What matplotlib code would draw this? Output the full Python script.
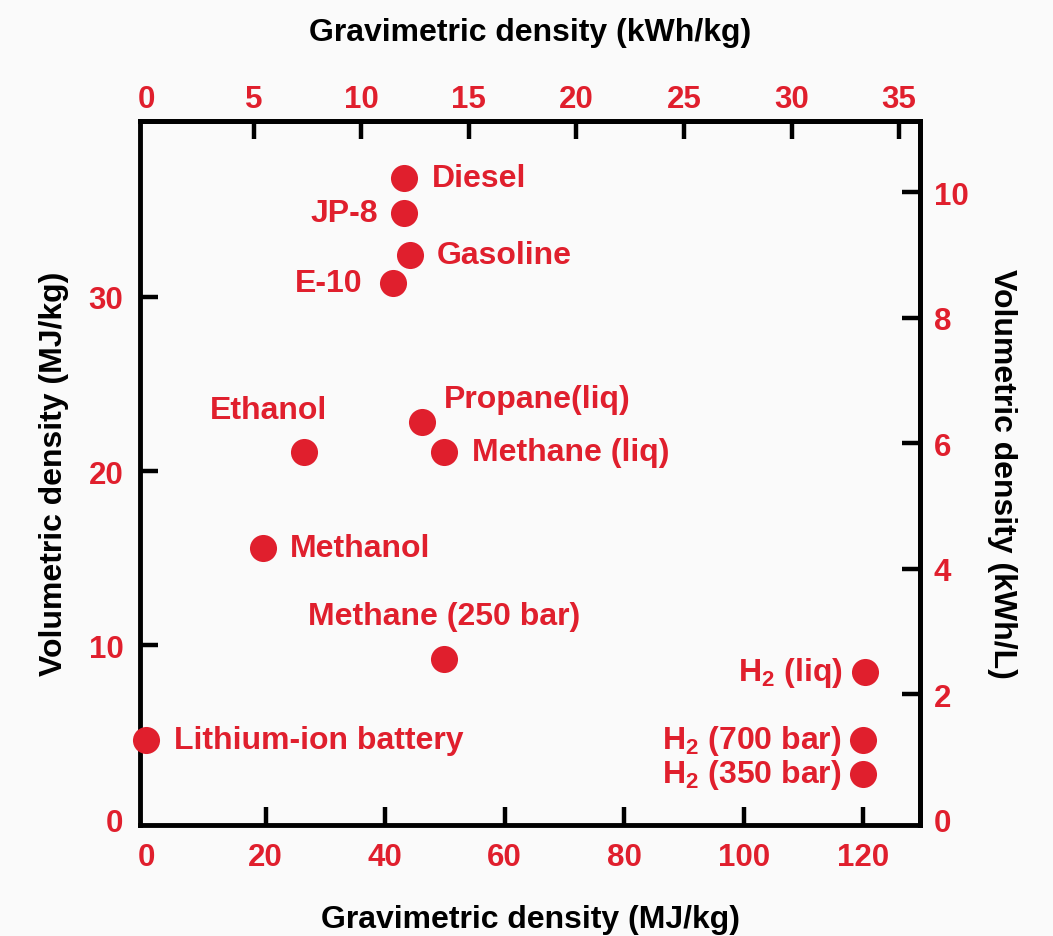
import matplotlib.pyplot as plt

plt.rcParams["font.family"] = "Liberation Sans"
plt.rcParams["font.weight"] = "bold"
plt.rcParams["mathtext.fontset"] = "custom"
plt.rcParams["mathtext.rm"] = "Liberation Sans:bold"
plt.rcParams["mathtext.it"] = "Liberation Sans:bold"
plt.rcParams["mathtext.bf"] = "Liberation Sans:bold"

red = "#e01f2d"

# fuels: gravimetric (MJ/kg), volumetric (MJ/L)
names = ["Diesel", "JP-8", "Gasoline", "E-10", "Propane(liq)", "Methane (liq)",
         "Ethanol", "Methanol", "Methane (250 bar)", "Lithium-ion battery",
         "H$_2$ (liq)", "H$_2$ (700 bar)", "H$_2$ (350 bar)"]
grav = [43.2, 43.2, 44.2, 41.4, 46.2, 49.9, 26.5, 19.6, 49.9, 0.0, 120.3, 120.0, 120.0]
vol = [36.8, 34.8, 32.4, 30.8, 22.8, 21.1, 21.1, 15.6, 9.25, 4.6, 8.5, 4.55, 2.65]

# label offsets in points and alignment
offsets = [(20, 0, "left"), (-19, 0, "right"), (19, 0, "left"), (-22, 0, "right"),
           (16, 17, "left"), (20, 0, "left"), (-26, 30, "center"), (19, 0, "left"),
           (0, 31, "center"), (20, 0, "left"), (-16, 0, "right"), (-16, 0, "right"),
           (-16, 0, "right")]

fig = plt.figure(figsize=(10.53, 9.37), dpi=100, facecolor="#fafafa")
ax = fig.add_axes([0.133, 0.1185, 0.7407, 0.7513])
ax.set_facecolor("#fafafa")

ax.scatter(grav, vol, s=380, color=red, zorder=3, clip_on=False, linewidths=0)
for n, x, y, (dx, dy, ha) in zip(names, grav, vol, offsets):
    ax.annotate(n, (x, y), xytext=(dx, dy), textcoords="offset points",
                ha=ha, va="center", color=red, fontsize=23, fontweight="bold")

ax.set_xlim(-1, 129.5)
ax.set_ylim(-0.3, 40.1)
ax.set_xticks([0, 20, 40, 60, 80, 100, 120])
ax.set_yticks([0, 10, 20, 30])

top = ax.secondary_xaxis("top", functions=(lambda v: v / 3.6, lambda v: v * 3.6))
top.set_xticks([0, 5, 10, 15, 20, 25, 30, 35])
right = ax.secondary_yaxis("right", functions=(lambda v: v / 3.6, lambda v: v * 3.6))
right.set_yticks([0, 2, 4, 6, 8, 10])

for a in [ax, top, right]:
    a.tick_params(direction="in", length=13, width=3.2, colors="black",
                  labelcolor=red, labelsize=22.5, pad=10)
    for sp in a.spines.values():
        sp.set_linewidth(3.5)
ax.tick_params(axis="x", pad=12)
ax.tick_params(axis="y", pad=12)
top.tick_params(pad=5)
for lab in (ax.get_xticklabels() + ax.get_yticklabels() + top.get_xticklabels()
            + right.get_yticklabels()):
    lab.set_fontweight("bold")

# the ticks at zero sit on the frame, hide them
ax.xaxis.get_major_ticks()[0].tick1line.set_visible(False)
ax.yaxis.get_major_ticks()[0].tick1line.set_visible(False)
top.xaxis.get_major_ticks()[0].tick2line.set_visible(False)
right.yaxis.get_major_ticks()[0].tick2line.set_visible(False)

ax.set_xlabel("Gravimetric density (MJ/kg)", fontsize=23, fontweight="bold", labelpad=23)
ax.set_ylabel("Volumetric density (MJ/kg)", fontsize=23, fontweight="bold", labelpad=14)
top.set_xlabel("Gravimetric density (kWh/kg)", fontsize=23, fontweight="bold", labelpad=32)
right.set_ylabel("Volumetric density (kWh/L)", fontsize=23, fontweight="bold",
                 rotation=-90, labelpad=35)

fig.savefig("out.png", dpi=100, facecolor=fig.get_facecolor())
